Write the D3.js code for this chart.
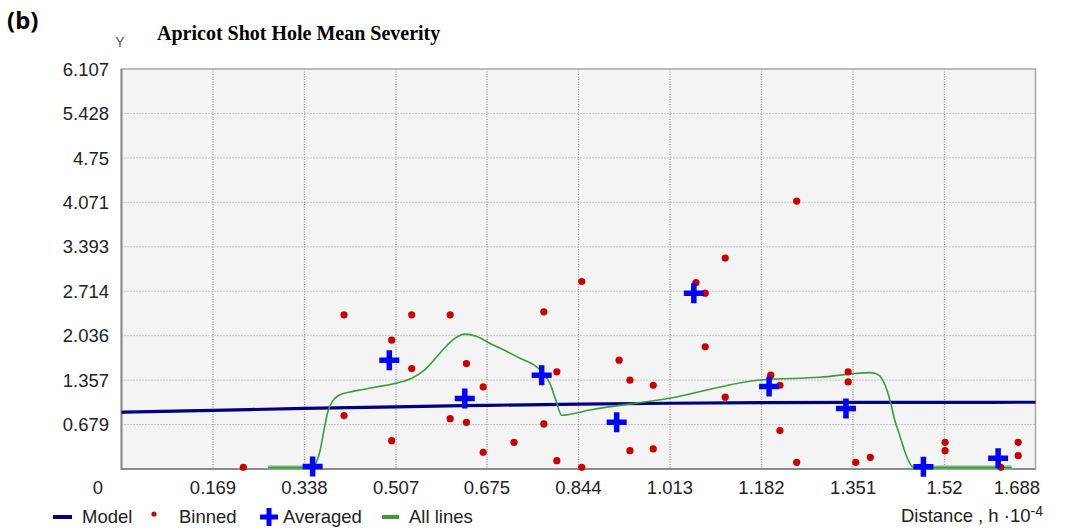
<!DOCTYPE html>
<html>
<head>
<meta charset="utf-8">
<script src="https://cdn.jsdelivr.net/npm/d3@7"></script>
<style>
  html, body { margin: 0; padding: 0; background: #fff; }
  svg { display: block; }
  .tick-label { font-family: "Liberation Sans", Arial, sans-serif; font-size: 18.5px; fill: #222; }
</style>
</head>
<body>
<div id="chart"></div>
<script>
// --- data ----------------------------------------------------------------
const xTicks = [0, 0.169, 0.338, 0.507, 0.675, 0.844, 1.013, 1.182, 1.351, 1.52, 1.688];
const yTicks = [0, 0.679, 1.357, 2.036, 2.714, 3.393, 4.071, 4.75, 5.428, 6.107];

// model variogram (smooth, rises slowly then flattens)
const model = [
    [0, 0.866], [0.169, 0.895], [0.338, 0.925], [0.507, 0.95], [0.675, 0.972],
    [0.844, 0.99], [1.013, 1.004], [1.182, 1.012], [1.351, 1.016], [1.52, 1.018], [1.688, 1.019]
];

// binned points (red dots)
const binned = [
    [0.225, 0.026], [0.411, 2.354], [0.411, 0.815], [0.499, 1.967], [0.499, 0.433],
    [0.536, 2.354], [0.536, 1.533], [0.607, 2.354], [0.607, 0.769], [0.637, 1.609],
    [0.637, 0.713], [0.668, 1.253], [0.668, 0.255], [0.725, 0.408], [0.780, 2.40],
    [0.780, 0.688], [0.804, 1.483], [0.804, 0.127], [0.850, 2.863], [0.850, 0.026],
    [0.919, 1.661], [0.939, 1.356], [0.939, 0.280], [0.982, 1.279], [0.982, 0.306],
    [1.061, 2.847], [1.078, 2.685], [1.078, 1.865], [1.115, 3.220], [1.115, 1.096],
    [1.199, 1.432], [1.216, 1.279], [1.216, 0.586], [1.247, 4.091], [1.247, 0.102],
    [1.342, 1.483], [1.342, 1.330], [1.356, 0.102], [1.383, 0.179], [1.521, 0.408],
    [1.521, 0.280], [1.624, 0.026], [1.656, 0.408], [1.656, 0.203]
];

// averaged points (blue crosses)
const averaged = [
    [0.353, 0.04], [0.4946, 1.661], [0.634, 1.075], [0.776, 1.432], [0.9145, 0.713],
    [1.057, 2.685], [1.196, 1.258], [1.338, 0.922], [1.481, 0.035], [1.619, 0.163]
];

// "All lines" smoothed curve (green)
const allLines = [
    [0.271, 0.02], [0.352, 0.02], [0.360, 0.107], [0.367, 0.29], [0.374, 0.596],
    [0.381, 0.871], [0.390, 1.04], [0.403, 1.13], [0.422, 1.177], [0.446, 1.215],
    [0.477, 1.261], [0.507, 1.31], [0.536, 1.386], [0.560, 1.513], [0.588, 1.768],
    [0.612, 1.972], [0.634, 2.059], [0.656, 2.022], [0.680, 1.921], [0.730, 1.716],
    [0.778, 1.467], [0.791, 1.31], [0.802, 1.055], [0.813, 0.821], [0.865, 0.902],
    [1.012, 1.081], [1.179, 1.36], [1.290, 1.40], [1.382, 1.472], [1.398, 1.437],
    [1.41, 1.284], [1.419, 1.055], [1.428, 0.749], [1.438, 0.494], [1.447, 0.26],
    [1.456, 0.087], [1.465, 0.02], [1.644, 0.02]
];

const legendItems = ["Model", "Binned", "Averaged", "All lines"];

// --- canvas ----------------------------------------------------------------
const W = 1066, H = 529;
const m = { top: 69, right: 30.5, bottom: 60, left: 121.5 };
const innerW = W - m.left - m.right;
const innerH = H - m.top - m.bottom;

const COLORS = { model: "#000080", binned: "#c80000", averaged: "#0000ff", lines: "#3d9a3d", flat: "#7fb57f" };

const svg = d3.select("#chart").append("svg")
    .attr("width", W).attr("height", H)
    .attr("viewBox", `0 0 ${W} ${H}`);

const x = d3.scaleLinear().domain([0, 1.688]).range([0, innerW]);
const y = d3.scaleLinear().domain([0, 6.107]).range([innerH, 0]);

const g = svg.append("g").attr("transform", `translate(${m.left},${m.top})`);

g.append("rect").attr("width", innerW).attr("height", innerH).attr("fill", "#f4f4f4");

// dotted grid
g.append("g").selectAll("line").data(yTicks.slice(1, -1)).join("line")
    .attr("x1", 0).attr("x2", innerW)
    .attr("y1", d => y(d)).attr("y2", d => y(d))
    .attr("stroke", "#959595").attr("stroke-dasharray", "1,2");
g.append("g").selectAll("line").data(xTicks.slice(1, -1)).join("line")
    .attr("x1", d => x(d)).attr("x2", d => x(d))
    .attr("y1", 0).attr("y2", innerH)
    .attr("stroke", "#959595").attr("stroke-width", 1.3).attr("stroke-dasharray", "1,1.5");

// frame
g.append("rect").attr("width", innerW).attr("height", innerH)
    .attr("fill", "none").attr("stroke", "#a8a8a8").attr("stroke-width", 1.5);
g.append("path").attr("d", `M0,0V${innerH}H${innerW}`)
    .attr("fill", "none").attr("stroke", "#8c8c8c").attr("stroke-width", 2);

// y tick labels
svg.append("g").selectAll("text").data(yTicks.slice(1)).join("text")
    .attr("class", "tick-label")
    .attr("x", 109).attr("y", d => m.top + y(d))
    .attr("dy", "0.36em").attr("text-anchor", "end")
    .text(d => d);

// x tick labels
svg.append("g").selectAll("text").data(xTicks).join("text")
    .attr("class", "tick-label")
    .attr("x", (d, i) => i === 0 ? 103 : (i === xTicks.length - 1 ? 1040 : m.left + x(d)))
    .attr("y", 494)
    .attr("text-anchor", (d, i) => i === 0 ? "end" : (i === xTicks.length - 1 ? "end" : "middle"))
    .text(d => d);

// marks
const line = d3.line().x(d => x(d[0])).y(d => y(d[1]));

g.append("path").datum(model)
    .attr("d", line.curve(d3.curveMonotoneX))
    .attr("fill", "none").attr("stroke", COLORS.model).attr("stroke-width", 3.2);

const flatRuns = [];
for (let i = 1; i < allLines.length; i++) {
    if (allLines[i - 1][1] <= 0.03 && allLines[i][1] <= 0.03) flatRuns.push([allLines[i - 1], allLines[i]]);
}
g.append("g").selectAll("path").data(flatRuns).join("path")
    .attr("d", d3.line().x(d => x(d[0])).y(d => y(d[1])))
    .attr("stroke", COLORS.flat).attr("stroke-width", 4.5).attr("fill", "none");

g.append("path").datum(allLines)
    .attr("d", d3.line().x(d => x(d[0])).y(d => y(d[1])).curve(d3.curveMonotoneX))
    .attr("fill", "none").attr("stroke", COLORS.lines).attr("stroke-width", 1.6);

g.append("g").selectAll("circle").data(binned).join("circle")
    .attr("cx", d => x(d[0])).attr("cy", d => y(d[1])).attr("r", 3.6)
    .attr("fill", COLORS.binned);

const crossPath = s => `M${-s},0H${s}M0,${-s}V${s}`;
g.append("g").selectAll("path").data(averaged).join("path")
    .attr("transform", d => `translate(${x(d[0])},${y(d[1])})`)
    .attr("d", crossPath(10))
    .attr("stroke", COLORS.averaged).attr("stroke-width", 5.5).attr("fill", "none");

// titles
svg.append("text").attr("x", 7).attr("y", 29)
    .style("font-family", "'Noto Sans', 'DejaVu Sans', sans-serif").style("font-weight", "bold")
    .style("font-size", "24px").attr("fill", "#000").text("(b)");
svg.append("text").attr("x", 157).attr("y", 40)
    .style("font-family", "'Liberation Serif', 'Times New Roman', serif").style("font-weight", "bold")
    .style("font-size", "20px").attr("fill", "#000").text("Apricot Shot Hole Mean Severity");
svg.append("text").attr("x", 120).attr("y", 47).attr("text-anchor", "middle")
    .style("font-family", "'Liberation Sans', Arial, sans-serif")
    .style("font-size", "14px").attr("fill", "#555").text("Y");

// axis title
const axT = svg.append("text").attr("class", "tick-label")
    .attr("x", 1043).attr("y", 522).attr("text-anchor", "end");
axT.append("tspan").text("Distance , h ·10");
axT.append("tspan").attr("dy", "-0.45em").style("font-size", "14px").text("-4");

// legend
const legX = { "Model": 53, "Binned": 150, "Averaged": 259, "All lines": 382 };
const leg = svg.append("g").selectAll("g").data(legendItems).join("g")
    .attr("transform", d => `translate(${legX[d]},517)`);
leg.each(function (d) {
    const s = d3.select(this);
    let tx = 0;
    if (d === "Model") {
        s.append("line").attr("x1", 0).attr("x2", 19).attr("stroke", COLORS.model).attr("stroke-width", 4);
        tx = 29;
    } else if (d === "Binned") {
        s.append("circle").attr("cx", 4).attr("cy", -3).attr("r", 2.6).attr("fill", COLORS.binned);
        tx = 29;
    } else if (d === "Averaged") {
        s.append("path").attr("transform", "translate(10,0)").attr("d", crossPath(9))
            .attr("stroke", COLORS.averaged).attr("stroke-width", 5).attr("fill", "none");
        tx = 24;
    } else {
        s.append("line").attr("x1", 0).attr("x2", 17).attr("stroke", COLORS.lines).attr("stroke-width", 4);
        tx = 27;
    }
    s.append("text").attr("class", "tick-label").attr("x", tx).attr("y", 6).text(d);
});
</script>
</body>
</html>
